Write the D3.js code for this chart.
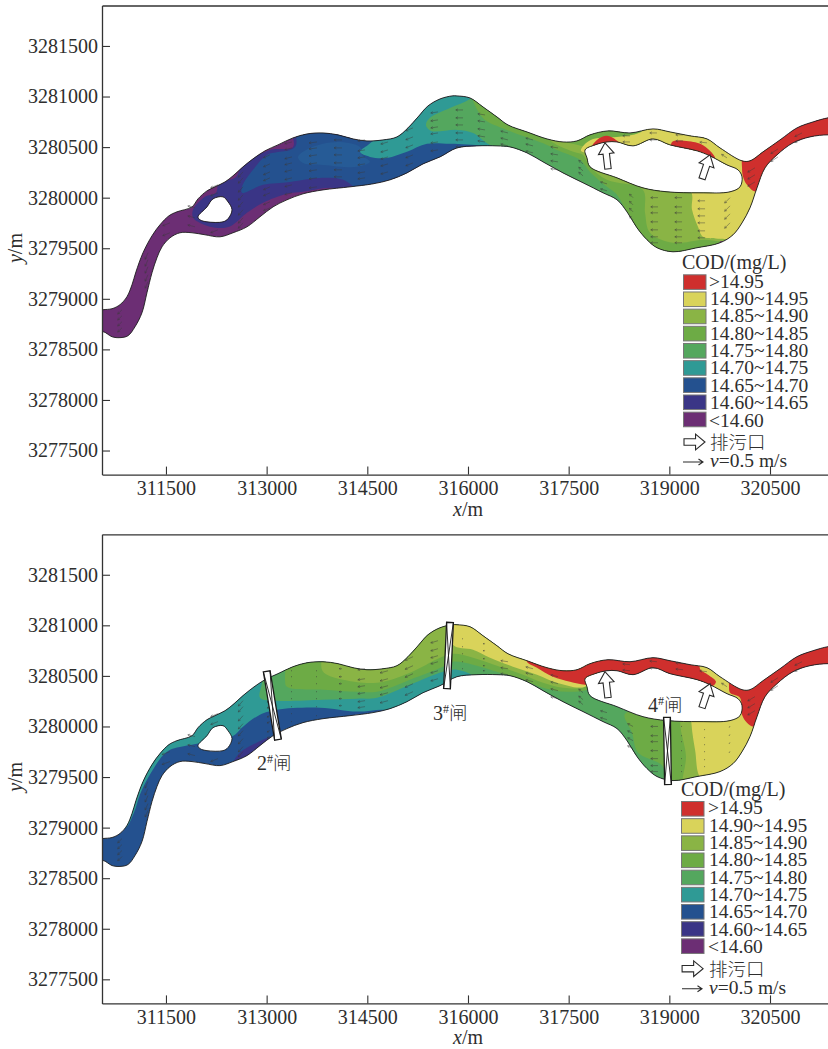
<!DOCTYPE html>
<html><head><meta charset="utf-8">
<script src="https://cdn.jsdelivr.net/npm/d3@7/dist/d3.min.js"></script>
<style>html,body{margin:0;padding:0;background:#fff}svg{display:block}
text{font-family:"Liberation Serif","Noto Sans CJK SC",serif;fill:#2e2e2e}</style></head><body>
<svg id="c" width="828" height="1049"></svg>
<script>
// ---- axis data ----
const xTicks=[311500,313000,314500,316000,317500,319000,320500];
const yTicks=[3277500,3278000,3278500,3279000,3279500,3280000,3280500,3281000,3281500];
const xDomain=[310547,321364], yDomain=[3277262,3281900];
const legendLabels=[">14.95","14.90~14.95","14.85~14.90","14.80~14.85","14.75~14.80","14.70~14.75","14.65~14.70","14.60~14.65","<14.60"];
const C={red:"#cf2f2d",yel:"#d9d35a",g85:"#8ab445",g80:"#6dab45",g75:"#54a75e",teal:"#2f9a95",blue:"#24518f",ind:"#3a3586",pur:"#6c2e74",blue2:"#265b96"};
const legendColors=[C.red,C.yel,C.g85,C.g80,C.g75,C.teal,C.blue,C.ind,C.pur];

// ---- river geometry (easting, northing in metres) ----
const bankUpper=[[310480,3278880],[310562,3278892],[310696,3278902],[310815,3278942],[310919,3279021],[310994,3279139],[311053,3279267],[311158,3279455],[311292,3279623],[311411,3279732],[311545,3279821],[311664,3279860],[311888,3279909],[311977,3279988],[312111,3280067],[312231,3280107],[312380,3280156],[312499,3280216],[312648,3280305],[312797,3280384],[312976,3280463],[313169,3280522],[313393,3280591],[313601,3280630],[313840,3280640],[314063,3280621],[314287,3280581],[314495,3280561],[314734,3280571],[314942,3280601],[315106,3280690],[315255,3280798],[315404,3280907],[315583,3280976],[315762,3281006],[315836,3281006],[316030,3280986],[316224,3280897],[316432,3280798],[316596,3280719],[316879,3280650],[317177,3280581],[317416,3280551],[317624,3280561],[317818,3280621],[318086,3280660],[318414,3280640],[318757,3280680],[319010,3280650],[319308,3280611],[319561,3280581],[319755,3280492],[320083,3280364],[320202,3280364],[320396,3280453],[320649,3280571],[320902,3280690],[321141,3280749],[321364,3280789],[321500,3280795]];
const bankLower=[[321500,3280610],[321364,3280621],[321096,3280601],[320843,3280542],[320604,3280423],[320426,3280295],[320306,3280097],[320202,3279900],[320083,3279751],[319949,3279633],[319755,3279554],[319412,3279505],[319055,3279465],[318816,3279505],[318667,3279584],[318518,3279702],[318369,3279860],[318220,3279979],[318012,3280048],[317714,3280147],[317416,3280245],[317118,3280354],[316879,3280443],[316626,3280502],[316432,3280512],[316134,3280512],[315836,3280492],[315583,3280403],[315330,3280334],[315091,3280245],[314838,3280176],[314585,3280137],[314242,3280107],[313840,3280077],[313542,3280038],[313303,3279979],[313095,3279909],[312901,3279811],[312707,3279712],[312499,3279653],[312305,3279613],[312082,3279633],[311888,3279653],[311709,3279653],[311560,3279603],[311441,3279514],[311366,3279406],[311292,3279258],[311217,3279060],[311143,3278863],[311039,3278724],[310934,3278635],[310815,3278616],[310696,3278625],[310562,3278675],[310480,3278650]];
const islandWest=[[311977,3279811],[312111,3279909],[312201,3279988],[312350,3280008],[312424,3279959],[312484,3279880],[312424,3279791],[312350,3279761],[312111,3279761],[312007,3279781]];
const islandEast=[[317744,3280472],[317893,3280522],[318071,3280551],[318220,3280551],[318459,3280512],[318757,3280581],[319010,3280522],[319412,3280463],[319606,3280413],[319859,3280324],[320023,3280275],[320083,3280206],[320053,3280107],[319904,3280058],[319457,3280048],[318965,3280058],[318607,3280097],[318220,3280196],[317818,3280305],[317773,3280393]];

// ---- concentration zones, upper panel ----
const a_indigo=[[311903,3279880],[311903,3279801],[311977,3279761],[312156,3279712],[312380,3279702],[312499,3279732],[312707,3279850],[312946,3279949],[313303,3280038],[313542,3280058],[313944,3280097],[314331,3280077],[314331,3280719],[313393,3280719],[313393,3280502],[313050,3280472],[312648,3280324],[312529,3280196],[312290,3280147],[312245,3280048],[312082,3280008]];
const a_blue=[[312633,3280048],[312946,3280127],[313348,3280156],[313840,3280196],[314138,3280176],[314361,3280087],[314987,3280028],[316254,3280423],[316254,3280769],[313467,3280769],[313423,3280502],[313005,3280423],[312797,3280275],[312633,3280107]];
const a_blue2=[[313467,3280403],[313646,3280492],[314048,3280551],[314391,3280502],[314421,3280423],[314540,3280354],[314346,3280305],[313840,3280324],[313542,3280344]];
const a_teal=[[314391,3280453],[314510,3280522],[314734,3280621],[315136,3280769],[315583,3281065],[315956,3281065],[317147,3280670],[317147,3280295],[316775,3280443],[316432,3280492],[316224,3280512],[315732,3280532],[315389,3280532],[315091,3280453],[314793,3280393],[314540,3280403]];
const a_g75=[[315374,3280719],[315449,3280660],[315836,3280670],[316075,3280640],[316328,3280522],[316581,3280492],[316820,3280433],[317028,3280354],[317371,3280127],[318265,3279860],[318861,3279366],[319457,3279366],[319457,3280769],[316179,3281065],[316030,3280976],[315732,3280887],[315434,3280789]];
const a_g80=[[316075,3281114],[316209,3280798],[316581,3280670],[317177,3280522],[317326,3280472],[317669,3280374],[317818,3280255],[318071,3280107],[318220,3280028],[318518,3279663],[318712,3279554],[318816,3279366],[319606,3279366],[319606,3280867]];
const a_g85=[[317222,3280571],[317639,3280522],[317967,3280472],[318607,3280472],[318712,3280769],[320351,3280867],[320351,3279979],[319859,3279584],[319502,3279584],[319055,3279554],[318712,3279653],[318638,3279850],[318607,3280077],[318071,3280176],[317818,3280305],[317714,3280423],[317624,3280443],[317326,3280522]];
const a_yellow=[[317684,3280463],[317729,3280522],[317863,3280581],[318220,3280601],[318459,3280621],[318607,3280670],[318607,3280769],[320500,3280769],[320500,3279485],[319904,3279584],[319755,3279593],[319502,3279613],[319427,3279712],[319338,3279880],[319308,3280077],[317907,3280423]];
const a_redEast=[[320098,3280393],[320083,3280295],[320098,3280206],[320157,3280127],[320306,3280058],[321543,3280522],[321543,3280917],[320649,3280670]];
const a_redA=[[317848,3280502],[317922,3280571],[318071,3280611],[318205,3280571],[318250,3280542],[318071,3280542]];
const a_redB=[[319040,3280551],[319412,3280542],[319576,3280482],[319681,3280393],[319576,3280393],[319412,3280443],[319040,3280492]];

// ---- concentration zones, lower panel ----
const b_indigo=[[312499,3279640],[312604,3279742],[312797,3279821],[313050,3279890],[313050,3279830],[312797,3279700],[312499,3279560]];
const b_teal=[[310741,3278991],[310890,3278991],[311024,3279149],[311113,3279327],[311262,3279524],[311515,3279751],[311813,3279811],[311962,3279830],[312484,3279900],[312648,3279998],[312901,3280117],[313154,3280166],[313795,3280186],[314346,3280147],[314734,3280166],[314913,3280147],[316179,3280324],[316179,3281164],[310666,3281164]];
const b_g75=[[312931,3280522],[312931,3280433],[312901,3280285],[313154,3280255],[313840,3280265],[314346,3280275],[314644,3280285],[315136,3280413],[315628,3280542],[315836,3280561],[316060,3280512],[316328,3280423],[317073,3280226],[318265,3279860],[318861,3279366],[319457,3279366],[319457,3280966],[313050,3280966]];
const b_g80=[[313333,3280867],[313274,3280463],[313303,3280393],[313840,3280364],[314346,3280344],[314644,3280344],[315136,3280463],[315628,3280591],[315777,3280640],[316075,3280611],[316477,3280532],[316820,3280463],[317118,3280384],[317475,3280344],[317818,3280374],[317967,3280472],[317967,3280966],[313333,3280966]];
const b_g80South=[[318339,3280127],[318444,3279939],[318533,3279742],[318906,3279603],[318965,3279366],[319204,3279366],[319204,3280127]];
const b_g85=[[313825,3280769],[313825,3280561],[313899,3280512],[314138,3280463],[314644,3280433],[315136,3280532],[315583,3280680],[315777,3280719],[316075,3280680],[316477,3280591],[316820,3280512],[317118,3280433],[317416,3280384],[317744,3280393],[317967,3280571],[317967,3281016],[313825,3281016]];
const b_g85South=[[319204,3280127],[319248,3279702],[319234,3279366],[320351,3279366],[320351,3280127]];
const b_yellow=[[315777,3281114],[315777,3280808],[316075,3280759],[316328,3280680],[316670,3280591],[317028,3280512],[317326,3280433],[317744,3280393],[317967,3280571],[317967,3281016]];
const b_yellowEast=[[319323,3280127],[319383,3279771],[319502,3279465],[320500,3279485],[320500,3280769],[319383,3280769],[319383,3280472]];
const b_redNorth=[[316879,3280719],[316879,3280640],[317028,3280581],[317266,3280492],[317520,3280443],[317744,3280413],[317967,3280423],[319457,3280374],[319636,3280393],[319695,3280443],[319576,3280512],[319457,3280571],[319457,3280769]];
const b_redEast=[[319889,3280492],[319889,3280413],[319904,3280334],[320053,3280285],[320083,3280117],[320157,3280038],[320276,3279998],[321543,3280472],[321543,3280966],[320649,3280719],[320127,3280423]];

// ---- velocity arrows: [easting, northings[]]; then per-panel [u,v] in m/s ----
const arrowColumns=[
[310845,[3278892,3278833,3278774,3278714]],
[311232,[3279455,3279386,3279317,3279238,3279169]],
[311560,[3279751,3279653]],
[311933,[3279900,3279801,3279712]],
[312275,[3280127,3280048,3279682]],
[312648,[3280255,3280196,3280107,3280028,3279959,3279880,3279801,3279751]],
[313050,[3280423,3280334,3280255,3280196,3280107,3280048,3279959,3279900]],
[313378,[3280551,3280492,3280403,3280344,3280275,3280196,3280127,3280048]],
[313750,[3280551,3280492,3280423,3280344,3280275,3280196,3280107]],
[314123,[3280571,3280492,3280423,3280344,3280275,3280206]],
[314466,[3280571,3280472,3280403,3280334,3280255,3280196]],
[314808,[3280551,3280472,3280403,3280334,3280255]],
[315181,[3280690,3280601,3280522,3280423,3280344]],
[315553,[3280848,3280769,3280700,3280640,3280551,3280472]],
[315926,[3280867,3280789,3280719,3280640,3280571,3280502]],
[316254,[3280818,3280749,3280670,3280601,3280551]],
[316596,[3280640,3280571,3280512]],
[316969,[3280571,3280512,3280443]],
[317341,[3280492,3280423,3280354,3280275]],
[317714,[3280334,3280265,3280216]],
[318071,[3280137,3280068]],
[318414,[3280611,3280551]],
[318816,[3280640,3280571]],
[319204,[3280621,3280561]],
[319561,[3280542]],
[319859,[3280393]],
[318459,[3280000,3279929,3279860,3279781]],
[318831,[3280000,3279909,3279850,3279761,3279682,3279613,3279554]],
[319189,[3280000,3279909,3279850,3279761,3279682,3279613,3279554]],
[319532,[3279969,3279890,3279820,3279751,3279672,3279603]],
[319904,[3280000,3279919,3279840,3279751]],
[320276,[3280295,3280226,3280156]],
[320619,[3280482,3280403]],
[320977,[3280640,3280581]]];
const velocityTop=[[-.12,-.12],[-.08,-.18],[-.2,-.08],[-.2,.05],[-.2,-.08],[-.13,-.15],[-.18,-.08],[-.2,-.05],[-.22,-.03],[-.22,0],[-.2,-.03],[-.2,-.06],[-.2,-.08],[-.2,-.03],[-.2,0],[-.2,.03],[-.2,.05],[-.2,.05],[-.2,.03],[-.12,.1],[-.18,.05],[-.2,0],[-.2,0],[-.2,0],[-.2,.02],[-.15,.1],[-.1,.1],[-.2,0],[-.2,0],[-.2,0],[-.15,-.15],[-.2,-.12],[-.2,-.13],[-.2,-.1]];
const velocityBottom=[[-.12,-.12],[-.08,-.18],[-.22,-.08],[-.2,.05],[-.2,-.08],[-.13,-.15],[-.08,-.04],[-.02,0],[-.02,0],[-.08,0],[-.2,-.03],[-.22,-.06],[-.22,-.1],[-.2,-.06],[-.02,0],[-.05,0],[-.2,.03],[-.2,.05],[-.2,.05],[-.12,.1],[-.18,.05],[-.2,.02],[-.2,.02],[-.2,.02],[-.2,.02],[-.15,.1],[-.15,.08],[-.2,0],[-.02,0],[-.02,0],[-.02,-.02],[-.2,-.12],[-.2,-.13],[-.2,-.1]];

// outfalls and gates: [[east,north] start, end]
const outfalls=[[[318086,3280285],[318041,3280542]],[[319487,3280186],[319606,3280423]]];
const gates=[{name:"2",ends:[[313001,3280545],[313169,3279870]],label:[312856,3279574]},
             {name:"3",ends:[[315732,3281029],[315687,3280374]],label:[315479,3280067]},
             {name:"4",ends:[[318965,3280090],[318980,3279426]],label:[318682,3280147]}];

const panels=[
 {top:5.5,bottom:474.6,lx:0,ly:0,sw:0,vel:velocityTop,showGates:false,
  zones:[[a_indigo,C.ind],[a_blue,C.blue],[a_blue2,C.blue2],[a_teal,C.teal],[a_g75,C.g75],[a_g80,C.g80],[a_g85,C.g85],[a_yellow,C.yel],[a_redEast,C.red],[a_redA,C.red],[a_redB,C.red]],base:C.pur},
 {top:534.3,bottom:1003.4,lx:-1,ly:526.7,sw:-1.8,vel:velocityBottom,showGates:true,
  zones:[[b_indigo,C.ind],[b_teal,C.teal],[b_g75,C.g75],[b_g80,C.g80],[b_g80South,C.g80],[b_g85,C.g85],[b_g85South,C.g85],[b_yellow,C.yel],[b_yellowEast,C.yel],[b_redNorth,C.red],[b_redEast,C.red]],base:C.blue}
];

const svg=d3.select("#c");
const ink="#2a2a2a";
const x=d3.scaleLinear().domain(xDomain).range([102,828]);
const velPx=d3.scaleLinear().domain([0,.5]).range([0,18]);

function blockArrow(g,x0,y0,x1,y1){
  const L=Math.hypot(x1-x0,y1-y0),ux=(x1-x0)/L,uy=(y1-y0)/L,nx=-uy,ny=ux,hl=Math.min(11,L*.45),sw=3.2,hw=7.8;
  const P=(a,b)=>[x0+ux*a+nx*b,y0+uy*a+ny*b];
  const pts=[P(0,-sw),P(L-hl,-sw),P(L-hl,-hw),P(L,0),P(L-hl,hw),P(L-hl,sw),P(0,sw)];
  g.append("polygon").attr("points",pts.join(" ")).attr("fill","#fff").attr("stroke",ink).attr("stroke-width",1.1);
}

panels.forEach((p,i)=>{
  const y=d3.scaleLinear().domain(yDomain).range([p.bottom,p.top]);
  const closed=d3.line().x(d=>x(d[0])).y(d=>y(d[1])).curve(d3.curveCatmullRomClosed.alpha(.5));
  const riverD=closed(bankUpper.concat(bankLower))+closed(islandWest)+closed(islandEast);
  const defs=svg.append("defs");
  defs.append("clipPath").attr("id","river"+i).append("path").attr("d",riverD).attr("clip-rule","evenodd");
  defs.append("clipPath").attr("id","frame"+i).append("rect").attr("x",102).attr("y",p.top).attr("width",726).attr("height",p.bottom-p.top);
  const frame=svg.append("g").attr("clip-path",`url(#frame${i})`);
  const water=frame.append("g").attr("clip-path",`url(#river${i})`);
  water.append("rect").attr("x",102).attr("y",p.top).attr("width",726).attr("height",p.bottom-p.top).attr("fill",p.base);
  water.selectAll("path.z").data(p.zones).join("path").attr("class","z").attr("d",d=>closed(d[0])).attr("fill",d=>d[1]);
  frame.append("path").attr("d",riverD).attr("fill","none").attr("stroke","#1e1e1e").attr("stroke-width",.9);

  // velocity arrows
  const arrows=frame.append("g").attr("fill","none").attr("stroke","#3a3a3a").attr("stroke-width",.45);
  arrowColumns.forEach((c,k)=>{
    const [u,v]=p.vel[k];
    c[1].forEach(n=>{
      const x0=x(c[0]),y0=y(n),m=Math.hypot(u,v),dx=velPx(u),dy=-velPx(v),L=velPx(m),ux=dx/L,uy=dy/L,x1=x0+dx,y1=y0+dy,h=Math.min(2.2,L*.5);
      arrows.append("path").attr("d",`M${x0},${y0}L${x1},${y1}M${x1-ux*h-uy*h*.55},${y1-uy*h+ux*h*.55}L${x1},${y1}L${x1-ux*h+uy*h*.55},${y1-uy*h-ux*h*.55}`);
    });
  });

  // outfall arrows
  outfalls.forEach(o=>blockArrow(svg.append("g"),x(o[0][0]),y(o[0][1]),x(o[1][0]),y(o[1][1])));

  // gates
  if(p.showGates) gates.forEach(t=>{
    const g=svg.append("g");
    const a=[x(t.ends[0][0]),y(t.ends[0][1])],b=[x(t.ends[1][0]),y(t.ends[1][1])];
    const L=Math.hypot(b[0]-a[0],b[1]-a[1]),nx=-(b[1]-a[1])/L*3.4,ny=(b[0]-a[0])/L*3.4;
    const A=[a[0]+nx,a[1]+ny],B=[a[0]-nx,a[1]-ny],D=[b[0]-nx,b[1]-ny],E=[b[0]+nx,b[1]+ny];
    g.append("polygon").attr("points",[A,B,D,E].join(" ")).attr("fill","#fff").attr("stroke","#1a1a1a").attr("stroke-width",1.3);
    g.append("path").attr("d",`M${A}L${D}M${B}L${E}`).attr("stroke","#1a1a1a").attr("stroke-width",.9);
    const tx=svg.append("text").attr("x",x(t.label[0])).attr("y",y(t.label[1])).attr("font-size",20);
    tx.append("tspan").text(t.name);
    tx.append("tspan").text("#").attr("font-size",12).attr("dy",-7);
    tx.append("tspan").text("闸").attr("font-size",18.5).attr("dy",7).attr("font-weight",300);
  });

  // axes
  const yAxis=d3.axisLeft(y).tickValues(yTicks).tickFormat(d3.format("d")).tickSize(-8).tickSizeOuter(0).tickPadding(4);
  const xAxis=d3.axisBottom(x).tickValues(xTicks).tickFormat(d3.format("d")).tickSize(-8).tickSizeOuter(0).tickPadding(6);
  const ag=svg.append("g").attr("transform","translate(102,0)").call(yAxis);
  const bg=svg.append("g").attr("transform",`translate(0,${p.bottom})`).call(xAxis);
  svg.append("g").attr("transform",`translate(0,${p.top})`).call(d3.axisTop(x).tickValues([]).tickSizeOuter(0));
  svg.selectAll(".domain").attr("stroke","#333").attr("stroke-width",1.3);
  [ag,bg].forEach(s=>{s.selectAll("line").attr("stroke","#333").attr("stroke-width",1.1);
    s.selectAll("text").attr("font-size",20).attr("font-family","Liberation Serif").attr("fill","#2e2e2e");});

  const xl=svg.append("text").attr("x",468).attr("y",p.bottom+41).attr("text-anchor","middle").attr("font-size",20);
  xl.append("tspan").text("x").attr("font-style","italic"); xl.append("tspan").text("/m");
  const yl=svg.append("text").attr("transform",`translate(22,${(p.top+p.bottom)/2+8}) rotate(-90)`).attr("text-anchor","middle").attr("font-size",20);
  yl.append("tspan").text("y").attr("font-style","italic"); yl.append("tspan").text("/m");

  // legend
  const lg=svg.append("g").attr("transform",`translate(${p.lx},${p.ly})`);
  lg.append("text").attr("x",682).attr("y",269).attr("font-size",20).text("COD/(mg/L)");
  legendLabels.forEach((t,k)=>{
    const yy=274.8+k*17.17;
    lg.append("rect").attr("x",683.5+p.sw*.55).attr("y",yy).attr("width",22.5).attr("height",14.6).attr("fill",legendColors[k]).attr("stroke","#777").attr("stroke-width",1);
    lg.append("text").attr("x",k==0||k==8?709:710).attr("y",287.7+k*17.35).attr("font-size",19.5).text(t);
  });
  blockArrow(lg,684+p.sw*.5,442,705+p.sw*.5,442);
  lg.append("text").attr("x",710).attr("y",449).attr("font-size",18.5).attr("font-weight",300).attr("fill","#444").text("排污口");
  lg.append("path").attr("d","M683,462H703M698.5,459L703,462L698.5,465").attr("stroke",ink).attr("fill","none").attr("stroke-width",1.1);
  const vt=lg.append("text").attr("x",710).attr("y",467).attr("font-size",19.5);
  vt.append("tspan").text("v").attr("font-style","italic"); vt.append("tspan").text("=0.5 m/s");
});
</script></body></html>
